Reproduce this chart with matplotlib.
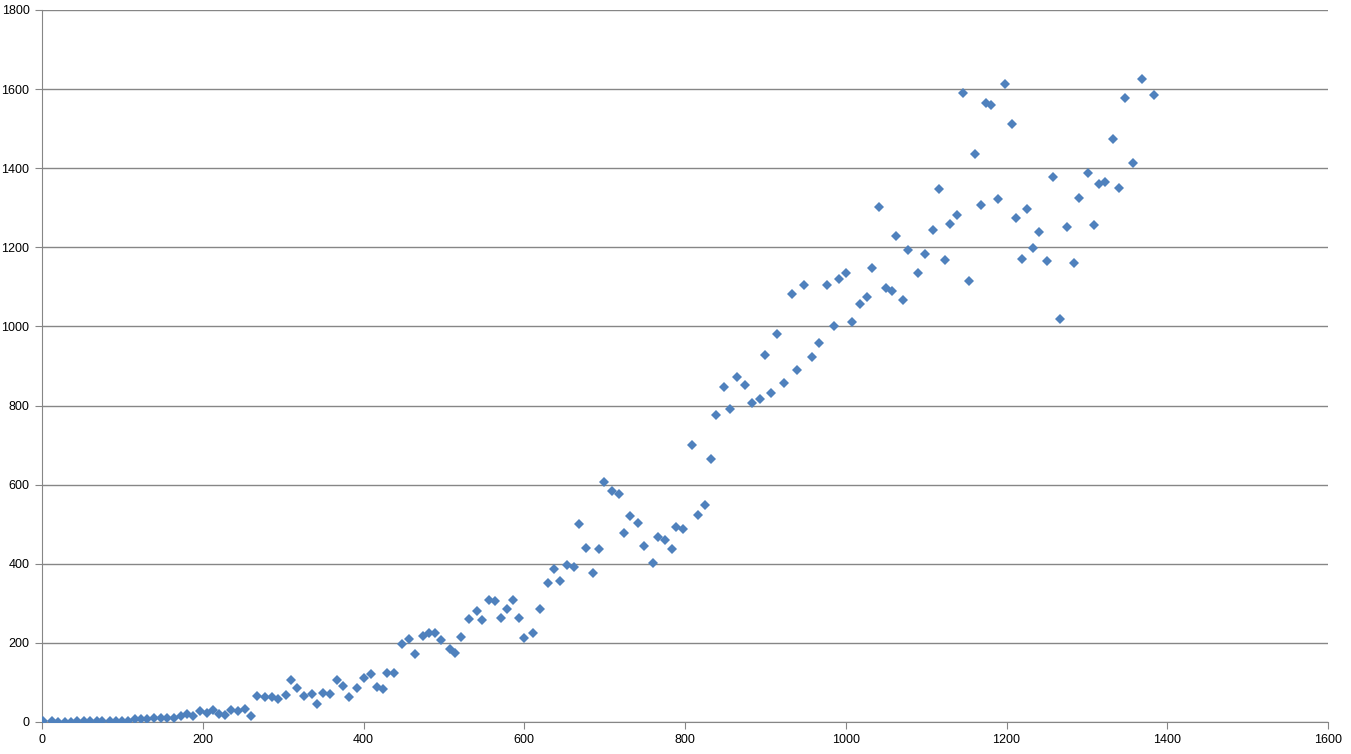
import matplotlib
matplotlib.use("Agg")
import matplotlib.pyplot as plt

# values
xs = [1.7, 12, 20, 28, 36, 44, 52, 60, 68, 75, 84, 92, 99, 107.5, 115.7, 123, 131, 139,
      148, 156, 164, 172.6, 181, 188, 196.6, 205, 213, 220, 228, 235.6, 244, 252, 260.5,
      268, 277, 286, 294, 303, 309.5, 317, 326, 335.6, 342.6, 350, 358.4, 367.5, 374,
      382.5, 391.6, 400, 409, 416.5, 424.8, 429.8, 438.5, 447.6, 456, 464.6, 473.8, 482,
      488.7, 497, 507, 514.4, 521.9, 531.8, 541, 548, 556.3, 564, 571, 578, 585.8, 593.6,
      600.3, 610.7, 620, 629, 636.4, 645, 653.8, 661.3, 668.7, 677.4, 685, 693.6, 699.8,
      709.4, 717.7, 723.5, 731, 741, 748.4, 759.6, 765.8, 774.5, 783.6, 789, 798, 808.5,
      815.6, 824.3, 832.2, 839, 849, 856, 865, 875, 883.6, 892.7, 899, 907, 914.7, 922.6,
      932.6, 939.6, 947.5, 957.5, 967, 976.8, 984.8, 992, 1000, 1008, 1018, 1026, 1033,
      1041, 1049.5, 1057, 1063, 1071, 1078, 1090.5, 1099, 1109, 1115.5, 1123, 1130, 1139,
      1146, 1153, 1161, 1168.6, 1174, 1181, 1190, 1198.5, 1206.4, 1212, 1219.7, 1226,
      1233, 1241, 1251, 1258, 1267, 1275.6, 1283.6, 1290.7, 1301, 1308.5, 1315.5, 1323,
      1332, 1339.6, 1348, 1357, 1368.6, 1383]
ys = [3, 3, 1, 0, 1, 3, 3, 3, 3, 3, 3, 3, 3, 3, 8, 8, 8, 9,
      11, 11, 11, 14, 20, 16, 27, 22, 31, 21, 18, 31, 27, 34, 15,
      65, 62, 62, 57, 67, 107, 86, 65, 70, 46, 73, 72, 107, 92,
      63, 86, 110, 121, 88, 83, 125, 124, 198, 211, 171, 218, 224,
      225, 208, 185, 175, 215, 261, 281, 258, 309, 305, 263, 286, 309, 263,
      213, 225, 286, 352, 386, 357, 397, 392, 501, 440, 377, 438, 608,
      583, 577, 478, 522, 504, 446, 402, 468, 461, 438, 494, 489, 700,
      524, 549, 666, 775, 846, 791, 871, 851, 807, 816, 927, 833, 981, 857,
      1081, 889, 1104, 922, 957, 1106, 1000, 1120, 1134, 1010, 1058, 1074, 1147,
      1301, 1096, 1089, 1228, 1066, 1192, 1134, 1182, 1243, 1347, 1168, 1258, 1281,
      1589, 1114, 1437, 1306, 1565, 1560, 1322, 1612, 1511, 1273, 1170, 1296,
      1198, 1239, 1165, 1378, 1019, 1251, 1160, 1325, 1387, 1257, 1360, 1365,
      1474, 1349, 1577, 1413, 1625, 1586]

xticks = list(range(0, 1601, 200))
yticks = list(range(0, 1801, 200))

plt.rcParams['font.family'] = ['Liberation Sans', 'DejaVu Sans']

fig = plt.figure(figsize=(13.51, 7.54), dpi=100, facecolor='w')
ax = fig.add_axes([42 / 1351, 32 / 754, (1328 - 42) / 1351, (722 - 10) / 754])

ax.plot(xs, ys, linestyle='none', marker='D', markersize=5.6,
        color='#4F81BD', markeredgewidth=0, zorder=3)

ax.set_xlim(0, 1600)
ax.set_ylim(0, 1800)
ax.set_xticks(xticks)
ax.set_yticks(yticks)
ax.grid(axis='y', color='#868686', linewidth=1)
ax.set_axisbelow(True)

for side in ['top', 'right']:
    ax.spines[side].set_visible(False)
for side in ['left', 'bottom']:
    ax.spines[side].set_color('#868686')
ax.tick_params(axis='both', colors='#868686', labelcolor='black',
               labelsize=9, length=5, direction='out')
ax.tick_params(axis='y', pad=4)

plt.savefig("out.png", facecolor='w', edgecolor='w')
